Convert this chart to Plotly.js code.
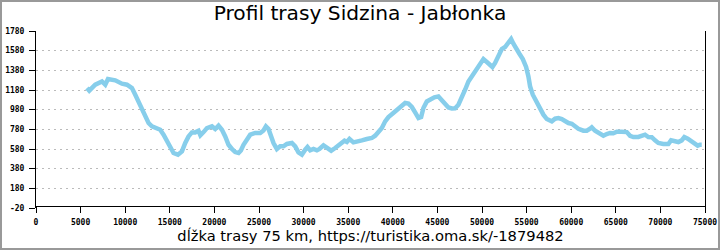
<!DOCTYPE html>
<html>
<head>
<meta charset="utf-8">
<script src="https://cdn.plot.ly/plotly-3.0.1.min.js"></script>
<style>
  html, body { margin:0; padding:0; background:#fff; }
  #wrap { position:relative; width:720px; height:250px; }
  #chart { width:720px; height:250px; }
  #frame { position:absolute; left:0; top:0; width:720px; height:250px; box-sizing:border-box; border:2px solid #999; pointer-events:none; }
</style>
</head>
<body>
<div id="wrap"><div id="chart"></div><div id="frame"></div></div>
<script>
// distance along the route (m)
const distance = [
  5715, 5973, 6645, 7396, 7766, 8068, 8886, 9637, 10197, 10757,
  11127, 11500, 11878, 12248, 12618, 12999, 13559, 13929, 14299, 14680,
  15050, 15420, 15912, 16361, 16731, 17100, 17480, 17851, 18220, 18431,
  18782, 19163, 19723, 20093, 20463, 20844, 21214, 21584, 21964, 22334,
  22704, 22970, 23264, 23645, 24015, 24575, 25135, 25505, 25773, 26066,
  26256, 26626, 27006, 27376, 27746, 28127, 28688, 29058, 29428, 29809,
  30179, 30436, 30738, 31108, 31489, 31782, 32229, 32610, 33092, 33540,
  34101, 34583, 34851, 35142, 35590, 35859, 36531, 37092, 37652, 38022,
  38392, 38773, 39143, 39513, 39961, 40453, 40935, 41383, 41754, 42134,
  42504, 42874, 43177, 43434, 43815, 44375, 44663, 45115, 45496, 45866,
  46236, 46617, 46987, 47357, 47738, 48108, 48478, 48859, 49419, 49789,
  50159, 50540, 50910, 51168, 51469, 51839, 52220, 52590, 52960, 53262,
  53520, 53822, 54193, 54574, 54944, 55202, 55392, 55695, 56065, 56513,
  56884, 57264, 57824, 58194, 58564, 58945, 59315, 59685, 60066, 60436,
  60806, 61366, 61747, 62117, 62307, 62677, 63047, 63607, 63988, 64358,
  64728, 65109, 65669, 66229, 66599, 66969, 67529, 68089, 68280, 68650,
  69030, 69400, 69770, 70330, 70891, 71193, 71451, 72011, 72391, 72683,
  73064, 73512, 73882, 74180, 74441, 74632
];
// elevation (m)
const elevation = [
  1200, 1173, 1234, 1267, 1234, 1292, 1278, 1244, 1234, 1200,
  1132, 1064, 997, 911, 844, 810, 786, 776, 726, 658,
  590, 539, 522, 556, 641, 708, 749, 749, 765, 720,
  752, 793, 810, 783, 817, 776, 708, 623, 580, 549,
  539, 566, 623, 682, 726, 743, 743, 769, 810, 783,
  726, 641, 580, 607, 607, 631, 641, 607, 546, 522,
  573, 600, 566, 580, 566, 580, 617, 590, 563, 590,
  624, 664, 651, 682, 647, 650, 668, 682, 692, 715,
  749, 793, 861, 905, 939, 973, 1013, 1048, 1041, 1007,
  952, 895, 905, 997, 1064, 1098, 1105, 1115, 1081, 1040,
  1003, 993, 995, 1030, 1098, 1183, 1267, 1318, 1379, 1437,
  1495, 1465, 1437, 1414, 1455, 1539, 1597, 1617, 1658, 1699,
  1651, 1597, 1549, 1495, 1414, 1318, 1217, 1132, 1064, 997,
  929, 885, 861, 888, 895, 885, 861, 844, 837, 810,
  786, 766, 766, 786, 800, 766, 743, 715, 732, 743,
  740, 756, 756, 752, 715, 702, 702, 715, 725, 702,
  700, 668, 641, 631, 631, 668, 660, 651, 668, 702,
  685, 651, 634, 614, 624, 624
];
const xTickVals = [0, 5000, 10000, 15000, 20000, 25000, 30000, 35000, 40000, 45000, 50000, 55000, 60000, 65000, 70000, 75000];
const yTickVals = [-20, 180, 380, 580, 780, 980, 1180, 1380, 1580, 1780];
const chartTitle = 'Profil trasy Sidzina - Jabłonka';
const xTitle = 'dĺžka trasy 75 km, https://turistika.oma.sk/-1879482';

const tickFont = {family:'DejaVu Sans Mono', size:8, color:'#000', weight:'bold'};

const data = [{
  type:'scatter', mode:'lines', x:distance, y:elevation,
  line:{color:'#87CEEB', width:4.5}, hoverinfo:'skip'
}];

const layout = {
  width:720, height:250,
  margin:{l:36, r:15, t:31, b:42, pad:0},
  paper_bgcolor:'#fff', plot_bgcolor:'#fff',
  showlegend:false,
  title:{text:chartTitle, font:{family:'DejaVu Sans', size:20.2, color:'#000'},
         x:0.5, xref:'container', xanchor:'center', y:0.95, yref:'container', yanchor:'middle'},
  xaxis:{range:[0,75000], tickvals:xTickVals, ticktext:xTickVals.map(String),
         ticks:'outside', ticklen:6, tickcolor:'#000', tickwidth:1,
         showline:true, linecolor:'#000', linewidth:1,
         showgrid:false, zeroline:false, anchor:'free', position:20/1800,
         tickfont:tickFont, ticklabelstandoff:2,
         title:{text:xTitle, font:{family:'DejaVu Sans', size:14.7, color:'#000'}, standoff:2}},
  yaxis:{range:[-20,1780], tickvals:yTickVals, ticktext:yTickVals.map(String),
         ticks:'outside', ticklen:6, tickcolor:'#000', tickwidth:1,
         showline:true, mirror:true, linecolor:'#000', linewidth:1,
         showgrid:true, gridcolor:'#bbbbbb', gridwidth:1, griddash:'2px,4px',
         zeroline:false, tickfont:tickFont, ticklabelstandoff:3},
  yaxis2:{overlaying:'y', range:[-20,1780], tickvals:yTickVals, ticks:'inside', ticklen:4,
          tickcolor:'#000', showticklabels:false, showgrid:false, showline:false, zeroline:false}
};

Plotly.newPlot('chart', data, layout, {staticPlot:true, displayModeBar:false});
</script>
</body>
</html>
